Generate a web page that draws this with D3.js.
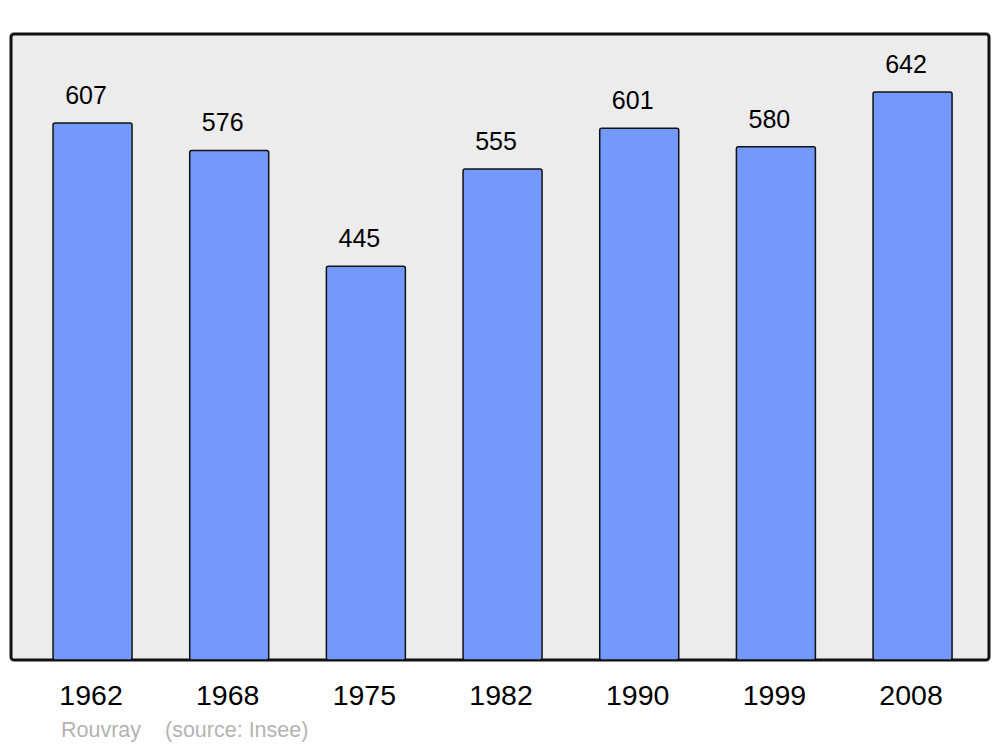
<!DOCTYPE html>
<html><head><meta charset="utf-8">
<script src="https://cdn.jsdelivr.net/npm/d3@7"></script>
<style>html,body{margin:0;padding:0;background:#fff}svg{display:block}</style>
</head><body>
<svg id="chart" width="1000" height="747"></svg>
<script>
const years = ["1962","1968","1975","1982","1990","1999","2008"];
const population = [607,576,445,555,601,580,642];
const townName = "Rouvray";
const sourceText = "(source: Insee)";

const svg = d3.select("#chart");
const font = "'Liberation Sans', Arial, sans-serif";

svg.append("rect").attr("x",11).attr("y",34).attr("width",978).attr("height",626)
  .attr("rx",3).attr("fill","#ececec").attr("stroke","#111").attr("stroke-width",3);

const x = d3.scaleBand().domain(years).range([24.2,980.9]).paddingInner(0.422).paddingOuter(0.211);
const y = d3.scaleLinear().domain([0,642]).range([660,92]);

svg.selectAll("rect.bar").data(population).join("rect").attr("class","bar")
  .attr("x",(d,i)=>x(years[i])).attr("y",d=>y(d))
  .attr("width",x.bandwidth()).attr("height",d=>y(0)-y(d))
  .attr("rx",2).attr("fill","#7399ff").attr("stroke","#111").attr("stroke-width",1.5);

svg.selectAll("text.val").data(population).join("text").attr("class","val")
  .attr("x",(d,i)=>x(years[i])+x.bandwidth()/2-6.5).attr("y",d=>y(d)-19)
  .attr("text-anchor","middle").attr("font-family",font).attr("font-size",25)
  .attr("fill","#000").text(d=>d);

svg.selectAll("text.yr").data(years).join("text").attr("class","yr")
  .attr("x",d=>x(d)+x.bandwidth()/2-1.5).attr("y",705)
  .attr("text-anchor","middle").attr("font-family",font).attr("font-size",28.5)
  .attr("fill","#000").text(d=>d);

svg.append("text").attr("x",61).attr("y",737).attr("font-family",font).attr("font-size",21.5)
  .attr("fill","#b3b3b3").text(townName);
svg.append("text").attr("x",165).attr("y",737).attr("font-family",font).attr("font-size",21.5)
  .attr("fill","#b3b3b3").text(sourceText);
</script>
</body></html>
